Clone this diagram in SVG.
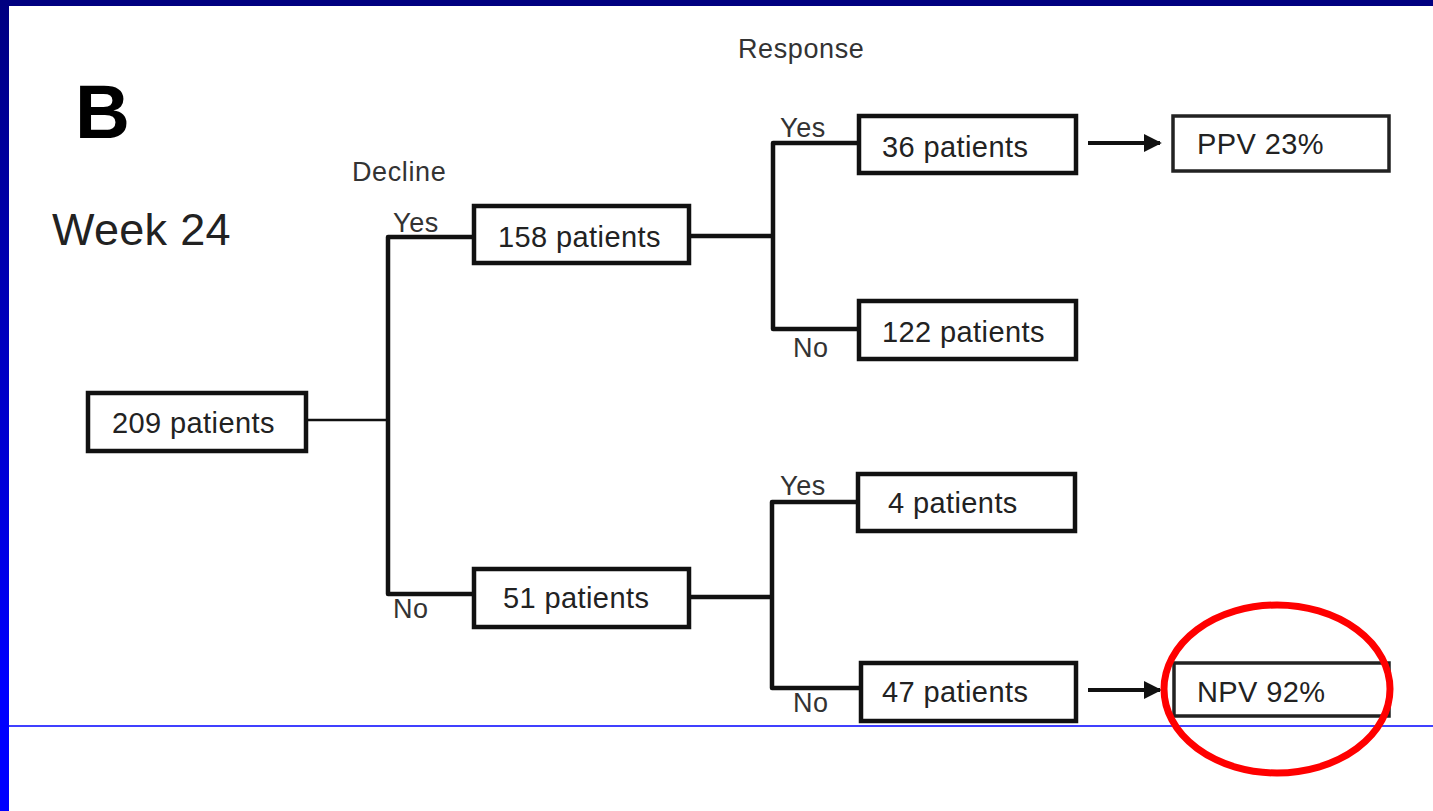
<svg xmlns="http://www.w3.org/2000/svg" width="1433" height="811" viewBox="0 0 1433 811">
<defs>
<linearGradient id="lb" x1="0" y1="0" x2="0" y2="1">
<stop offset="0" stop-color="#000080"/>
<stop offset="0.85" stop-color="#0000ff"/>
<stop offset="1" stop-color="#0000ff"/>
</linearGradient>
<marker id="ah" viewBox="0 0 10 10" refX="9" refY="5" markerWidth="4.5" markerHeight="4.5" orient="auto" markerUnits="strokeWidth">
<path d="M0,0 L10,5 L0,10 z" fill="#111"/>
</marker>
<style>
.box{fill:#fff;stroke:#111;stroke-width:4.5}
.box2{fill:#fff;stroke:#222;stroke-width:3.5}
.t{font-family:"Liberation Sans",Arial,sans-serif;font-size:29px;fill:#222;letter-spacing:0.4px}
.l{font-family:"Liberation Sans",Arial,sans-serif;font-size:27px;fill:#333;letter-spacing:0.6px}
.c{fill:none;stroke:#111;stroke-width:4.5;stroke-linejoin:round}
</style>
</defs>
<rect x="0" y="0" width="1433" height="811" fill="#fff"/>
<rect x="0" y="0" width="1433" height="6" fill="#000080"/>
<rect x="0" y="0" width="9" height="811" fill="url(#lb)"/>
<line x1="9" y1="726" x2="1433" y2="726" stroke="#0000ff" stroke-width="1.5"/>

<g id="titles">
<text x="75" y="138" font-family="Liberation Sans,Arial,sans-serif" font-weight="bold" font-size="76" fill="#000">B</text>
<text x="52" y="245" font-family="Liberation Sans,Arial,sans-serif" font-size="45" fill="#222" letter-spacing="0.3">Week 24</text>
<text class="l" x="352" y="181">Decline</text>
<text class="l" x="738" y="58">Response</text>
</g>

<g id="connectors">
<line x1="307" y1="420" x2="388" y2="420" stroke="#111" stroke-width="2.5"/>
<path class="c" d="M475,237 H388 V594 H475"/>
<path class="c" d="M690,236 H773"/>
<path class="c" d="M858,143 H773 V329 H858"/>
<path class="c" d="M690,597 H772"/>
<path class="c" d="M858,502 H772 V688 H860"/>
<line x1="1088" y1="143" x2="1160" y2="143" stroke="#111" stroke-width="4" marker-end="url(#ah)"/>
<line x1="1088" y1="690" x2="1160" y2="690" stroke="#111" stroke-width="4" marker-end="url(#ah)"/>
<text class="l" x="393" y="232">Yes</text>
<text class="l" x="393" y="618">No</text>
<text class="l" x="780" y="137">Yes</text>
<text class="l" x="793" y="357">No</text>
<text class="l" x="780" y="495">Yes</text>
<text class="l" x="793" y="712">No</text>
</g>

<g id="n209"><rect class="box" x="88" y="393" width="218" height="58"/><text class="t" x="112" y="433">209 patients</text></g>
<g id="n158"><rect class="box" x="474" y="206" width="215" height="57"/><text class="t" x="498" y="247">158 patients</text></g>
<g id="n51"><rect class="box" x="474" y="569" width="215" height="58"/><text class="t" x="503" y="608">51 patients</text></g>
<g id="n36"><rect class="box" x="859" y="116" width="217" height="57"/><text class="t" x="882" y="157">36 patients</text></g>
<g id="n122"><rect class="box" x="859" y="301" width="217" height="58"/><text class="t" x="882" y="342">122 patients</text></g>
<g id="n4"><rect class="box" x="858" y="474" width="217" height="57"/><text class="t" x="888" y="513">4 patients</text></g>
<g id="n47"><rect class="box" x="861" y="663" width="215" height="58"/><text class="t" x="882" y="702">47 patients</text></g>
<g id="ppv"><rect class="box2" x="1173" y="116" width="216" height="55"/><text class="t" x="1197" y="154">PPV 23%</text></g>
<g id="npv"><rect class="box2" x="1174" y="663" width="215" height="53"/><text class="t" x="1197" y="702">NPV 92%</text></g>

<ellipse id="highlight" cx="1277" cy="689" rx="113" ry="84" fill="none" stroke="#ff0000" stroke-width="7"/>
</svg>
